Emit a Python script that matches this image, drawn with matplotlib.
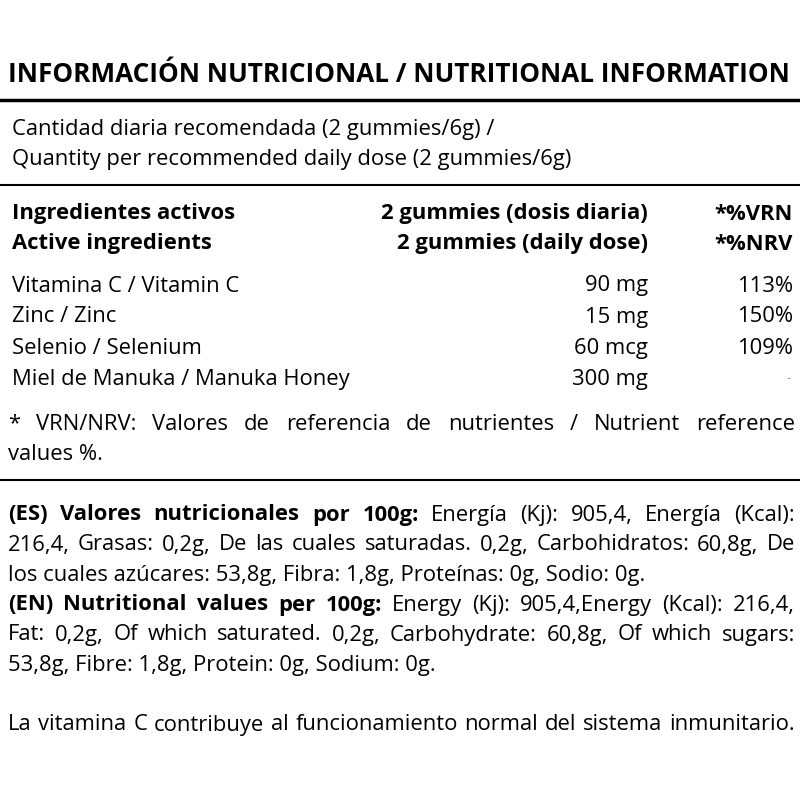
import matplotlib
matplotlib.use("Agg")
import matplotlib.pyplot as plt
from matplotlib.lines import Line2D

FONT = "Open Sans"
FS = 15.8
W = H = 800

title = "INFORMACIÓN NUTRICIONAL / NUTRITIONAL INFORMATION"
dose_lines = ["Cantidad diaria recomendada (2 gummies/6g) /",
              "Quantity per recommended daily dose (2 gummies/6g)"]
header_col1 = ["Ingredientes activos", "Active ingredients"]
header_col2 = ["2 gummies (dosis diaria)", "2 gummies (daily dose)"]
header_col3 = ["*%VRN", "*%NRV"]
ingredients = ["Vitamina C / Vitamin C", "Zinc / Zinc", "Selenio / Selenium",
               "Miel de Manuka / Manuka Honey"]
amounts = ["90 mg", "15 mg", "60 mcg", "300 mg"]
percents = ["113%", "150%", "109%", "-"]

# (line text, bold prefix, justified, y)
paragraph = [
    ("* VRN/NRV: Valores de referencia de nutrientes / Nutrient reference", "", True, 424),
    ("values %.", "", False, 455),
    ("Energía (Kj): 905,4, Energía (Kcal):", "(ES) Valores nutricionales por 100g:", True, 515),
    ("216,4, Grasas: 0,2g, De las cuales saturadas. 0,2g, Carbohidratos: 60,8g, De", "", True, 545),
    ("los cuales azúcares: 53,8g, Fibra: 1,8g, Proteínas: 0g, Sodio: 0g.", "", False, 575),
    ("Energy (Kj): 905,4,Energy (Kcal): 216,4,", "(EN) Nutritional values per 100g:", True, 605),
    ("Fat: 0,2g, Of which saturated. 0,2g, Carbohydrate: 60,8g, Of which sugars:", "", True, 635),
    ("53,8g, Fibre: 1,8g, Protein: 0g, Sodium: 0g.", "", False, 665),
    ("La vitamina C contribuye al funcionamiento normal del sistema inmunitario.", "", True, 725),
]

fig = plt.figure(figsize=(8, 8), dpi=100)
fig.patch.set_facecolor("white")
r = fig.canvas.get_renderer()


def put(x, y, s, ha="left", bold=False, fs=FS):
    return fig.text(x / W, 1 - y / H, s, ha=ha, va="center", fontsize=fs,
                    fontfamily=FONT, fontweight="bold" if bold else "normal")


def width(t):
    return t.get_window_extent(r).width


# title fitted to width
t = put(8, 75, title, bold=True, fs=18)
t.set_fontsize(18 * (790 - 8) / width(t))

for y in (100, 185, 480):
    fig.add_artist(Line2D([0, 1], [1 - y / H] * 2, color="black",
                          lw=2.5 if y == 100 else 1.5))

for s, y in zip(dose_lines, (130, 160)):
    put(12, y, s)

for i, y in enumerate((214, 244)):
    put(12, y, header_col1[i], bold=True)
    put(648, y, header_col2[i], ha="right", bold=True)
    put(793, y, header_col3[i], ha="right", bold=True)

for i, y in enumerate((286, 317, 348, 379)):
    put(12, y, ingredients[i])
    put(648, y, amounts[i], ha="right")
    if percents[i] == "-":
        put(790, y, percents[i], ha="right", fs=6)
    else:
        put(793, y, percents[i], ha="right")

x0, x1 = 8, 795
for text, bold_prefix, just, y in paragraph:
    words = [(w, True) for w in bold_prefix.split()] + [(w, False) for w in text.split()]
    if not just:
        put(x0, y, text)
        continue
    arts = [put(0, y, w, bold=b) for w, b in words]
    ws = [width(a) for a in arts]
    gap = (x1 - x0 - sum(ws)) / (len(ws) - 1)
    if gap < 2:
        # too long: shrink the whole line to fit
        for a in arts:
            a.set_fontsize(FS * (x1 - x0 - 4 * (len(ws) - 1)) / sum(ws))
        ws = [width(a) for a in arts]
        gap = (x1 - x0 - sum(ws)) / (len(ws) - 1)
    x = x0
    for a, w in zip(arts, ws):
        a.set_x(x / W)
        x += w + gap

fig.savefig("out.png", dpi=100, facecolor="white")
